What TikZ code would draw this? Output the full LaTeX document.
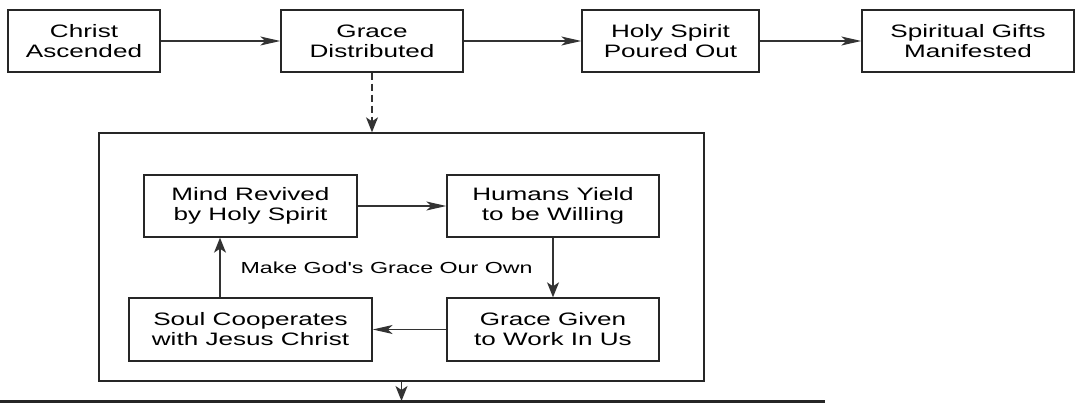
\documentclass[tikz,border=0pt]{standalone}
\usepackage{fontspec}
\newfontfamily\boxfont[FakeStretch=1.45]{Liberation Sans}
\usetikzlibrary{arrows.meta}
\begin{document}
\begin{tikzpicture}[x=1pt,y=-1pt,
  box/.style={draw=black!85, line width=1.4pt, rectangle, inner sep=0pt, align=center,
    font=\boxfont\fontsize{18}{20}\selectfont},
  hflow/.style={draw=black!80, line width=1.2pt, -{Stealth[length=20pt,width=9pt,inset=5pt]}},
  vflow/.style={draw=black!80, line width=1.2pt, -{Stealth[length=15pt,width=12pt,inset=4pt]}},
  lbl/.style={font=\boxfont\fontsize{16}{18}\selectfont, inner sep=0pt}
]
\useasboundingbox (0,0) rectangle (1075,403);
% outer group box
\node[box, minimum width=605pt, minimum height=248pt] (group) at (401.5,257) {};
% top row
\node[box, minimum width=152pt, minimum height=62pt] (christ) at (84,41) {Christ\\Ascended};
\node[box, minimum width=182pt, minimum height=62pt] (grace) at (372,41) {Grace\\Distributed};
\node[box, minimum width=177pt, minimum height=62pt] (spirit) at (670.5,41) {Holy Spirit\\Poured Out};
\node[box, minimum width=212pt, minimum height=62pt] (gifts) at (968,41) {Spiritual Gifts\\Manifested};
% inner boxes
\node[box, minimum width=213pt, minimum height=62pt] (mind) at (250.5,206) {Mind Revived\\by Holy Spirit};
\node[box, minimum width=212pt, minimum height=62pt] (humans) at (553,206) {Humans Yield\\to be Willing};
\node[box, minimum width=243pt, minimum height=63pt] (soul) at (250.5,329.5) {Soul Cooperates\\with Jesus Christ};
\node[box, minimum width=212pt, minimum height=63pt] (given) at (553,329.5) {Grace Given\\to Work In Us};
\node[lbl, anchor=base] (cycle) at (386.5,273) {Make God's Grace Our Own};
% connectors top
\draw[hflow] (christ) -- (grace);
\draw[hflow] (grace) -- (spirit);
\draw[hflow] (spirit) -- (gifts);
\draw[vflow, dash pattern=on 7pt off 4pt] (grace.south) -- (grace.south |- group.north);
% inner cycle
\draw[hflow] (mind) -- (humans);
\draw[vflow] (humans) -- (given);
\draw[hflow] (given) -- (soul);
\draw[vflow] ([xshift=-30.5pt]soul.north) -- ([xshift=-30.5pt]mind.south);
% bottom
\coordinate (lineL) at (0,401.5);
\coordinate (lineR) at (825,401.5);
\coordinate (base) at (401.5,401);
\draw[vflow] (group.south) -- (base);
\draw[black!85, line width=2.5pt] (lineL) -- (lineR);
\end{tikzpicture}
\end{document}
